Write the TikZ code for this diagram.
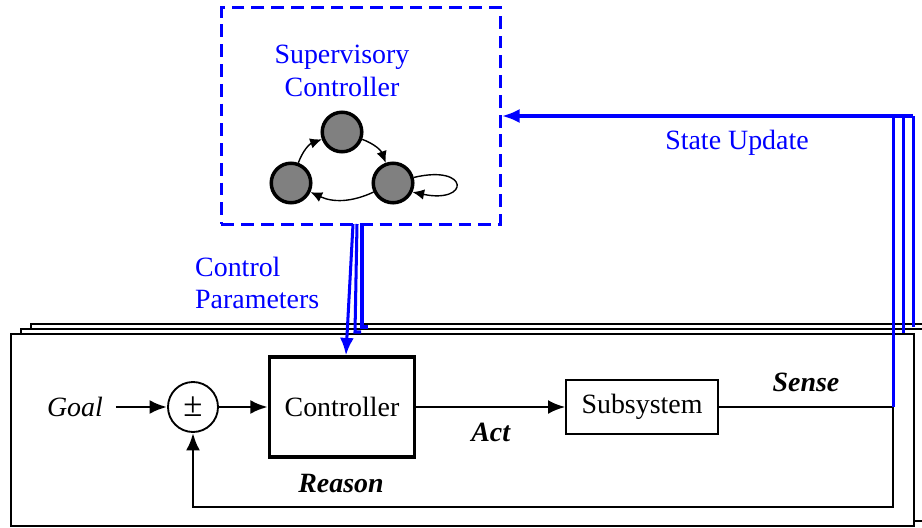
\documentclass[tikz,border=0pt]{standalone}
\usepackage{fontspec}
\setmainfont{Liberation Serif}
\usepackage{tikz}
\usetikzlibrary{arrows.meta,calc,positioning}

\tikzset{
 block/.style={draw, line width=1.4pt, minimum width=62.4pt, minimum height=43pt, font=\fontsize{12}{14}\selectfont},
 plant/.style={draw, line width=0.8pt, minimum width=65pt, minimum height=23.2pt, font=\fontsize{12}{14}\selectfont},
 sumnode/.style={draw, circle, line width=0.8pt, minimum size=21.5pt, inner sep=0pt, font=\fontsize{15}{16}\selectfont},
 state/.style={draw, circle, line width=1.5pt, fill=black!50, minimum size=17pt, inner sep=0pt},
 trans/.style={line width=0.6pt, -{Latex[length=5pt,width=4.5pt]}},
 sig/.style={line width=1.25pt, -{Latex[length=7.5pt,width=6pt]}},
 wire/.style={line width=1.25pt},
 frame/.style={line width=1.25pt, fill=white},
 bluewire/.style={draw=blue, line width=1.3pt},
 lbl/.style={font=\fontsize{12}{14}\selectfont},
 bluelbl/.style={lbl, text=blue, align=left},
}

\begin{document}
\begin{tikzpicture}[x=0.43pt, y=-0.43pt]
\useasboundingbox (0,0) rectangle (922,527);

% Stacked subsystem frames
\foreach \d in {2,1,0} {
 \draw[frame] (11+10*\d, 334-5*\d) rectangle (914+10*\d, 526-5*\d);
}

% Supervisor with its automaton
\node[draw=blue, dash pattern=on 5.5pt off 3pt, line width=1.3pt,
 minimum width=120pt, minimum height=92.9pt] (sup) at (361,116) {};
\node[bluelbl, align=center] (suplbl) at (342,71) {Supervisory\\Controller};

\node[state] (q0) at (342,132) {};
\node[state] (q1) at (393,183) {};
\node[state] (q2) at (291,183) {};
\draw[trans] (q2) to[bend left=25] (q0);
\draw[trans] (q0) to[bend left=25] (q1);
\draw[trans] (q1) to[bend left=25] (q2);
\draw[trans] (q1.15) .. controls (470,164) and (470,204) .. (q1.-25);

% Inner loop
\node[lbl] (goal) at (75,407) {\textit{Goal}};
\node[sumnode] (sum) at (193,407) {\raisebox{0.5pt}{±}};
\node[block] (ctrl) at (342,407) {Controller};
\node[plant] (sub) at (642,407) {Subsystem};
\coordinate (sense) at (893,407);
\coordinate (fbr) at (893,507);
\coordinate (fbl) at (193,507);

\draw[sig] ([xshift=2pt]goal.east) -- (sum);
\draw[sig] (sum) -- (ctrl);
\draw[sig] (ctrl) -- (sub);
\draw[wire] (sub) -- (sense);
\draw[sig] (sense) -- (fbr) -- (fbl) -- (sum);

\node[lbl] (act) at (491,432) {\textbf{\textit{Act}}};
\node[lbl] (sns) at (806,382) {\textbf{\textit{Sense}}};
\node[lbl] (rsn) at (341,483) {\textbf{\textit{Reason}}};

% State update lines back to the supervisor
\coordinate (su0) at (893,116);
\coordinate (su1) at (903,116);
\coordinate (su2) at (913,116);
\draw[bluewire] (sense) -- (su0);
\draw[bluewire] (903,333) -- (su1);
\draw[bluewire] (913,327) -- (su2);
\draw[bluewire, -{Latex[length=7.5pt,width=6pt]}] (su2) -- (sup.east);
\node[bluelbl] (upd) at (737,143) {State Update};

% Control parameters down to the controllers
\draw[bluewire, -{Latex[length=7.5pt,width=6pt]}] (353,224) -- ([xshift=1.7pt]ctrl.north);
\draw[bluewire] (357,224) -- (355,332) -- (361,332);
\draw[bluewire] (362,224) -- (362,327) -- (368,327);
\node[bluelbl, anchor=west] (par) at (187,283) {Control\\Parameters};
\end{tikzpicture}
\end{document}
